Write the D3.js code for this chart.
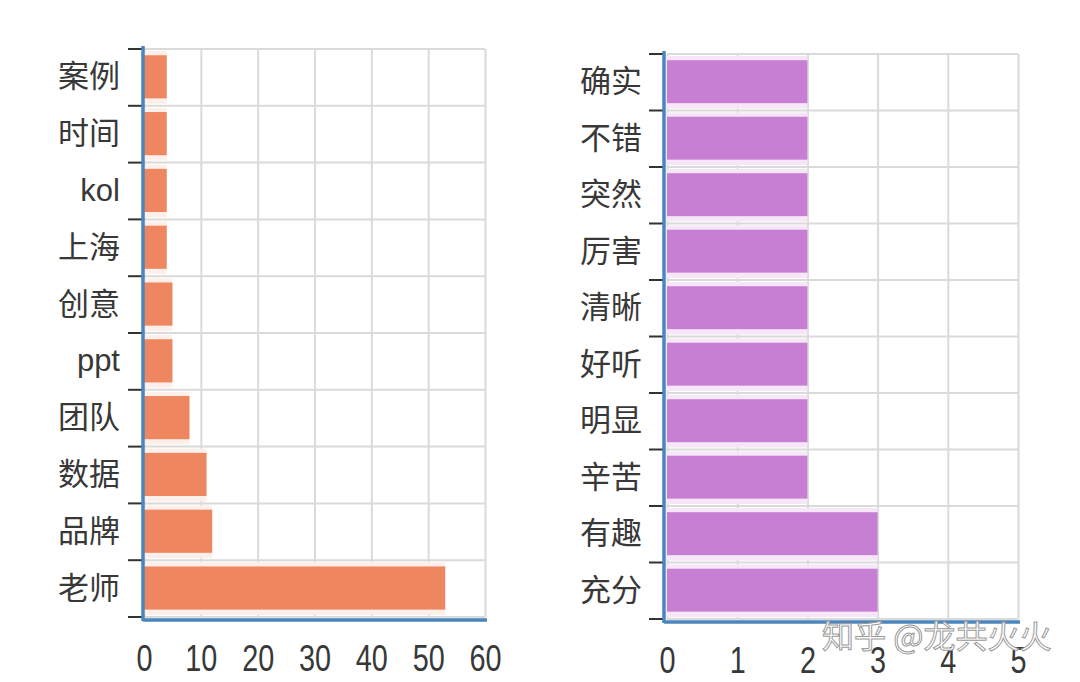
<!DOCTYPE html>
<html>
<head>
<meta charset="utf-8">
<script src="https://cdn.jsdelivr.net/npm/d3@7"></script>
<style>
  body { margin: 0; background: #fff; }
  svg { display: block; }
  text { font-family: "Liberation Sans", "Noto Sans CJK SC", sans-serif; }
</style>
</head>
<body>
<div id="canvas"></div>
<script>
// left chart: word counts (nouns)
const leftCats = ['案例', '时间', 'kol', '上海', '创意', 'ppt', '团队', '数据', '品牌', '老师'];
const leftValues = [4, 4, 4, 4, 5, 5, 8, 11, 12, 53];
const leftTicks = [0, 10, 20, 30, 40, 50, 60];

// right chart: word counts (adjectives)
const rightCats = ['确实', '不错', '突然', '厉害', '清晰', '好听', '明显', '辛苦', '有趣', '充分'];
const rightValues = [2, 2, 2, 2, 2, 2, 2, 2, 3, 3];
const rightTicks = [0, 1, 2, 3, 4, 5];

const width = 1080;
const height = 682;
const axisColor = '#4a86bd';
const gridColor = '#dadada';
const textColor = '#383838';

const svg = d3.select('#canvas').append('svg')
  .attr('width', width).attr('height', height)
  .attr('viewBox', [0, 0, width, height]);

function drawPanel(cats, values, ticks, opt) {
  const g = svg.append('g');
  const xScale = d3.scaleLinear()
    .domain([ticks[0], ticks[ticks.length - 1]])
    .range([opt.x0, opt.x1]);
  const yScale = d3.scaleBand().domain(cats)
    .range([opt.y0, opt.y1]).padding(0);
  const step = yScale.step();

  // vertical grid
  const xGrid = g.append('g')
    .attr('transform', `translate(0,${opt.y1})`)
    .call(d3.axisBottom(xScale).tickValues(ticks).tickSize(-(opt.y1 - opt.y0)).tickFormat(''));
  xGrid.select('.domain').remove();
  xGrid.selectAll('.tick line').attr('stroke', gridColor).attr('stroke-width', 2);

  // horizontal grid on band boundaries
  const bounds = cats.map(c => yScale(c)).concat([opt.y1]);
  g.append('g').selectAll('line').data(bounds).join('line')
    .attr('x1', opt.x0).attr('x2', opt.x1)
    .attr('y1', d => d).attr('y2', d => d)
    .attr('stroke', gridColor).attr('stroke-width', 2);

  // faint halo behind bars
  g.append('g').selectAll('rect').data(values).join('rect')
    .attr('x', xScale(0))
    .attr('y', (d, i) => yScale(cats[i]) + 2)
    .attr('width', d => xScale(d) - xScale(0))
    .attr('height', step - 4)
    .attr('fill', opt.halo);

  // bars
  g.append('g').selectAll('rect').data(values).join('rect')
    .attr('x', xScale(0))
    .attr('y', (d, i) => yScale(cats[i]) + step * 0.11)
    .attr('width', d => xScale(d) - xScale(0))
    .attr('height', step * 0.76)
    .attr('fill', opt.color);

  // short dark tick marks left of the axis
  g.append('g').selectAll('line').data(bounds).join('line')
    .attr('x1', opt.axisX - 15).attr('x2', opt.axisX)
    .attr('y1', d => d).attr('y2', d => d)
    .attr('stroke', '#333').attr('stroke-width', 2);

  // category labels
  const yAxisG = g.append('g')
    .attr('transform', `translate(${opt.axisX},0)`)
    .call(d3.axisLeft(yScale).tickSize(0).tickPadding(opt.labelPad));
  yAxisG.select('.domain').remove();
  yAxisG.selectAll('.tick text')
    .attr('font-size', 31).attr('fill', textColor)
    .style('font-family', '"Liberation Sans", "Noto Sans CJK SC", sans-serif');

  // value labels
  const xAxisG = g.append('g')
    .attr('transform', `translate(0,${opt.y1})`)
    .call(d3.axisBottom(xScale).tickValues(ticks).tickFormat(d3.format('d')).tickSize(0).tickPadding(0));
  xAxisG.select('.domain').remove();
  xAxisG.selectAll('.tick text')
    .attr('font-size', 32).attr('fill', textColor)
    .attr('dy', null).attr('y', 0)
    .attr('transform', 'translate(0,54) scale(0.9,1.15)')
    .style('font-family', '"Liberation Sans", sans-serif');

  // blue axis lines
  g.append('line')
    .attr('x1', opt.axisX).attr('x2', opt.axisX)
    .attr('y1', opt.y0 - 3).attr('y2', opt.axisY + 1)
    .attr('stroke', axisColor).attr('stroke-width', 3.5);
  g.append('line')
    .attr('x1', opt.axisX).attr('x2', opt.x1 + 2)
    .attr('y1', opt.axisY).attr('y2', opt.axisY)
    .attr('stroke', axisColor).attr('stroke-width', 3.5);
}

drawPanel(leftCats, leftValues, leftTicks, {
  x0: 144, x1: 485, y0: 49, y1: 617, axisX: 143, axisY: 620,
  labelPad: 23, color: '#ee865f', halo: '#fdf0eb'
});

drawPanel(rightCats, rightValues, rightTicks, {
  x0: 667, x1: 1018, y0: 54, y1: 619, axisX: 664, axisY: 622,
  labelPad: 22, color: '#c67fd3', halo: '#f6e6f7'
});

// watermark
svg.append('text')
  .attr('x', 822).attr('y', 648)
  .attr('font-size', 32)
  .attr('fill', '#ffffff').attr('stroke', '#9a9a9a').attr('stroke-width', 1)
  .style('font-family', '"Noto Sans CJK SC", sans-serif')
  .text('知乎 @龙共火火');
</script>
</body>
</html>
